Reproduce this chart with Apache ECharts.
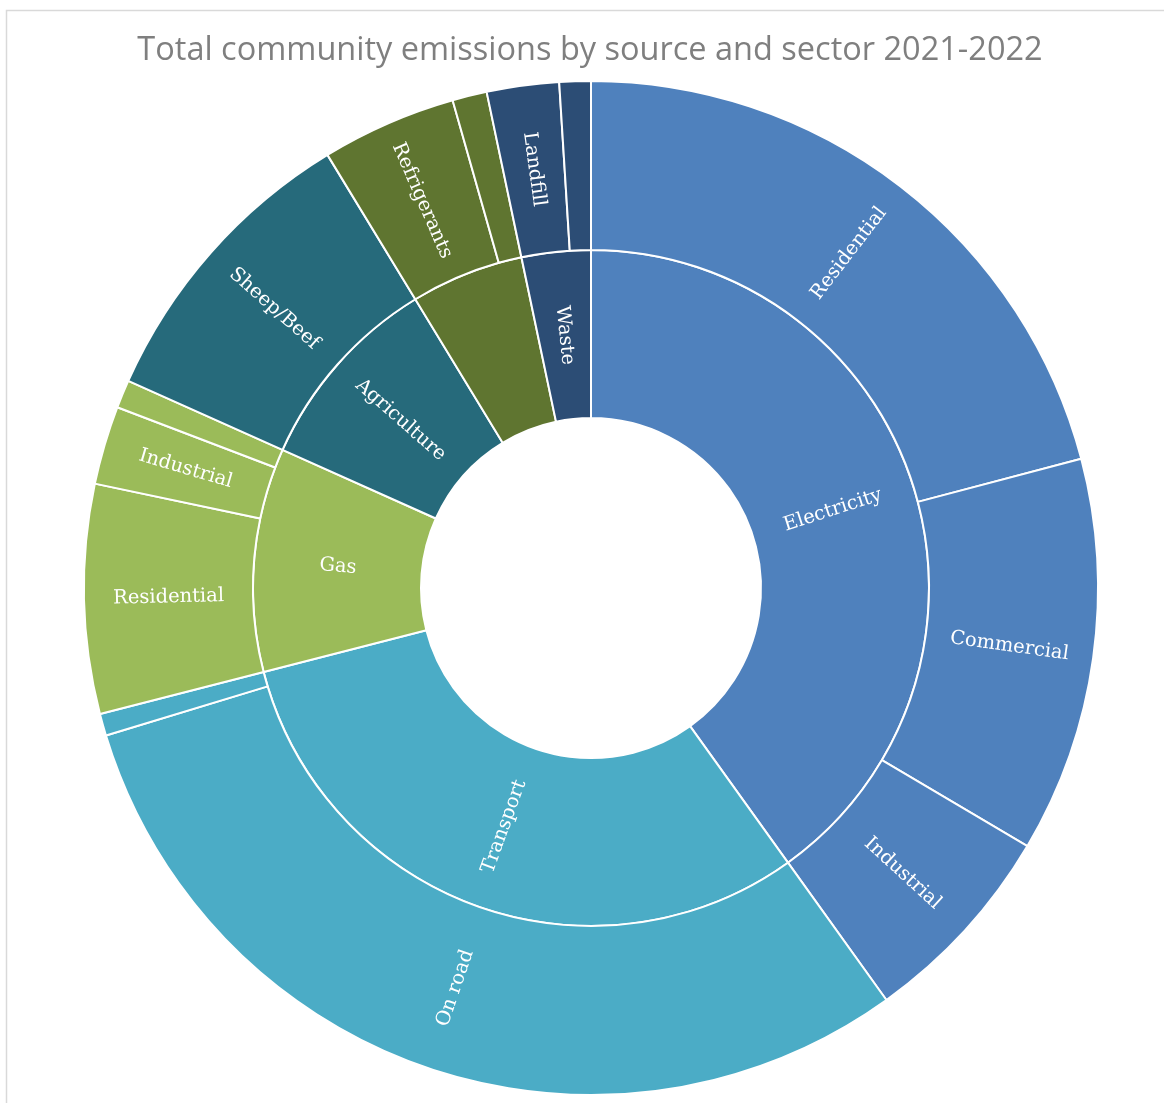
<!DOCTYPE html>
<html>
<head>
<meta charset="utf-8">
<script src="https://cdn.jsdelivr.net/npm/echarts@6/dist/echarts.min.js"></script>
<style>
  html, body { margin: 0; padding: 0; background: #ffffff; }
  #chart { width: 1164px; height: 1103px; }
</style>
</head>
<body>
<div id="chart"></div>
<script>
// Community emissions 2021-2022, share of total (%) by source and sector
const sources = ['Electricity', 'Transport', 'Gas', 'Agriculture', 'Industrial processes', 'Waste'];
const sourceColors = ['#4F81BD', '#4BACC6', '#9BBB59', '#266A7B', '#5F7530', '#2C4D75'];

const electricitySectors = ['Residential', 'Commercial', 'Industrial'];
const electricityValues = [20.9, 12.6, 6.6];

const transportSectors = ['On road', 'Off road'];
const transportValues = [30.2, 0.7];

const gasSectors = ['Residential', 'Industrial', 'Commercial'];
const gasValues = [7.3, 2.5, 0.9];

const agricultureSectors = ['Sheep/Beef'];
const agricultureValues = [9.6];

const industrialSectors = ['Refrigerants', 'Other'];
const industrialValues = [4.3, 1.1];

const wasteSectors = ['Landfill', 'Wastewater'];
const wasteValues = [2.3, 1.0];

// sectors whose slice is too thin for a label, plus the unlabelled source ring slice
const hiddenLabels = {
  'Transport': ['Off road'],
  'Gas': ['Commercial'],
  'Industrial processes': ['Other'],
  'Waste': ['Wastewater']
};
const hiddenSources = ['Industrial processes'];

const sectorLists = [electricitySectors, transportSectors, gasSectors, agricultureSectors, industrialSectors, wasteSectors];
const valueLists = [electricityValues, transportValues, gasValues, agricultureValues, industrialValues, wasteValues];

const data = sources.map((src, i) => {
  const color = sourceColors[i];
  const children = sectorLists[i].map((name, j) => {
    const node = { name: name, value: valueLists[i][j], itemStyle: { color: color } };
    if ((hiddenLabels[src] || []).includes(name)) node.label = { show: false };
    return node;
  });
  const total = valueLists[i].reduce((a, b) => a + b, 0);
  const node = {
    name: src,
    value: total,
    itemStyle: { color: color },
    children: children
  };
  if (hiddenSources.includes(src)) node.label = { show: false };
  return node;
});

const chart = echarts.init(document.getElementById('chart'), null, { renderer: 'canvas' });
chart.setOption({
  animation: false,
  backgroundColor: '#ffffff',
  title: {
    text: 'Total community emissions by source and sector 2021-2022',
    left: 585,
    top: 29,
    textAlign: 'center',
    textStyle: {
      fontFamily: 'Open Sans',
      fontSize: 32.5,
      fontWeight: 'normal',
      color: '#7F7F7F'
    }
  },
  graphic: [{
    type: 'rect',
    shape: { x: 6.5, y: 10.5, width: 1300, height: 1300 },
    style: { fill: 'none', stroke: '#D9D9D9', lineWidth: 1.5 },
    silent: true
  }],
  series: [{
    type: 'sunburst',
    center: [591, 588],
    radius: [170, 507],
    sort: null,
    startAngle: 90,
    nodeClick: false,
    emphasis: { disabled: true },
    data: data,
    itemStyle: { borderColor: '#ffffff', borderWidth: 2 },
    label: {
      rotate: 'radial',
      color: '#ffffff',
      fontFamily: 'DejaVu Serif',
      fontSize: 19.5
    },
    levels: [
      {},
      { r0: 170, r: 338 },
      { r0: 338, r: 507 }
    ]
  }]
});
</script>
</body>
</html>
